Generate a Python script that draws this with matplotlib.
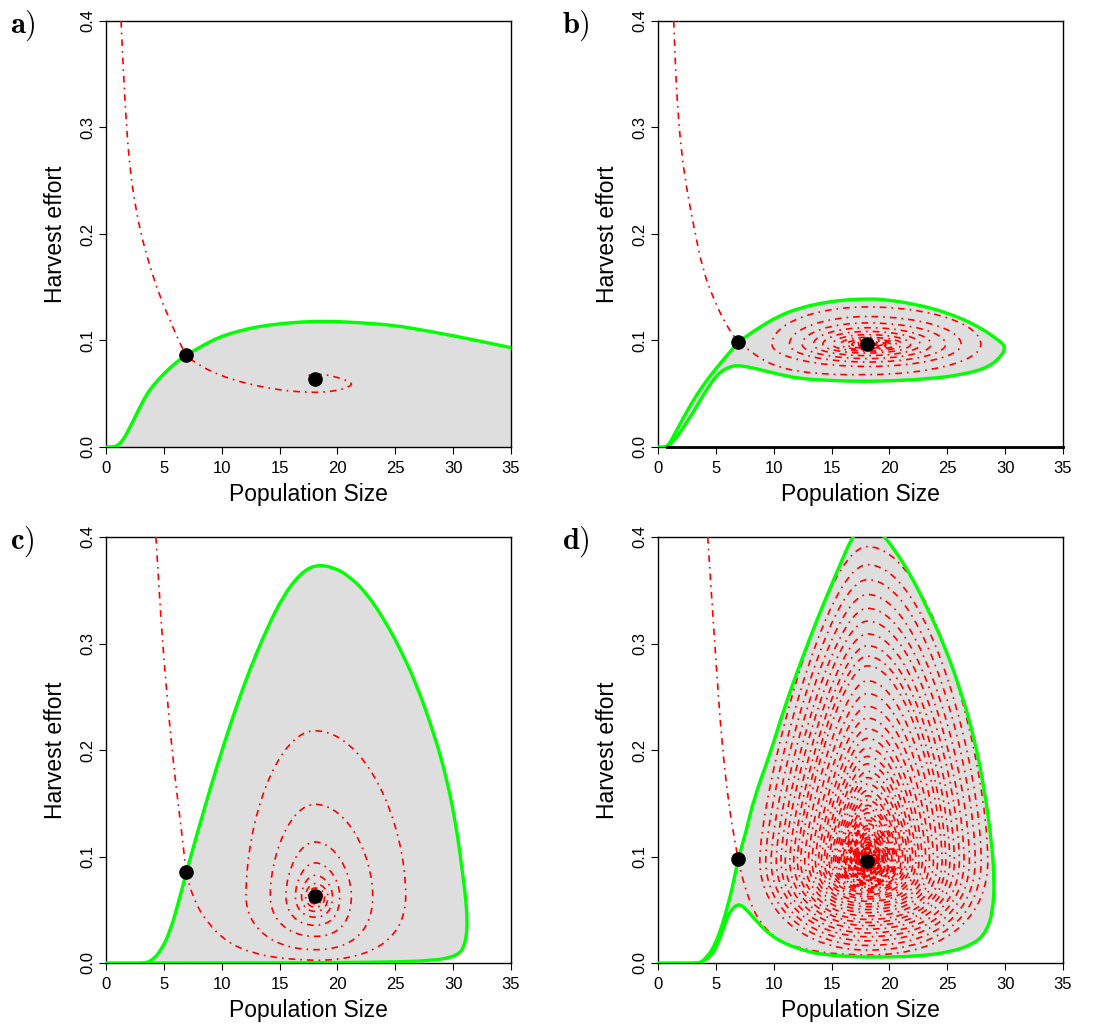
import numpy as np
import matplotlib.pyplot as plt
from matplotlib.path import Path
from matplotlib.patches import PathPatch

plt.rcParams['font.family'] = ['Liberation Sans', 'DejaVu Sans']
plt.rcParams['mathtext.fontset'] = 'cm'

GREEN = '#00ff00'
RED = '#ff0000'
GREY = '#dedede'
DOTDASH = (0, (4, 3, 1, 3))

# ---------------- panel a ----------------
green_a_x = [0.0, 0.5, 1.0, 1.5, 2.0, 2.5, 3.0, 3.5, 4.0, 5.0, 6.0, 6.9, 8.0, 9.0, 10.0,
             11.5, 13.0, 15.0, 17.0, 18.5, 20.0, 22.0, 25.0, 27.5, 30.0, 32.5, 35.0]
green_a_y = [0.0, 0.0, 0.001, 0.007, 0.017, 0.028, 0.039, 0.049, 0.057, 0.069, 0.079, 0.086,
             0.093, 0.099, 0.104, 0.109, 0.1128, 0.1158, 0.1175, 0.118, 0.1178, 0.1167,
             0.1142, 0.1095, 0.1045, 0.099, 0.0933]
red_a_x = [1.3, 1.45, 1.56, 1.75, 1.93, 2.15, 2.36, 2.94, 3.8, 4.67, 5.53, 6.2, 6.9,
           8.0, 9.5, 11.0, 13.0, 15.0, 17.0, 18.5, 20.0, 21.0, 21.3, 20.8, 19.8, 18.8,
           17.8, 17.3, 17.4]
red_a_y = [0.4, 0.365, 0.341, 0.305, 0.279, 0.256, 0.238, 0.203, 0.169, 0.141, 0.119,
           0.102, 0.086, 0.077, 0.069, 0.063, 0.0575, 0.0535, 0.0515, 0.0512, 0.053,
           0.0565, 0.0594, 0.0625, 0.066, 0.0682, 0.0683, 0.0665, 0.065]
eq_a_x = [6.9, 18.1]
eq_a_y = [0.086, 0.064]

# ---------------- panel b ----------------
green_b_x = [0.0, 0.6, 0.9, 1.59, 2.68, 3.78, 5.0, 6.25, 6.93, 8.44, 10.36, 12.27, 14.47,
             16.5, 18.1, 19.4, 22.1, 24.9, 27.6, 29.3, 30.05, 29.7, 28.5, 26.3, 23.5,
             19.4, 16.5, 14.47, 12.27, 10.36, 8.44, 7.07, 6.25, 5.15, 4.05, 2.96, 2.0,
             1.4, 0.9, 0.6]
green_b_y = [0.0, 0.0, 0.0012, 0.0152, 0.0373, 0.0563, 0.0737, 0.0896, 0.0986, 0.1101,
             0.1228, 0.1307, 0.136, 0.1385, 0.139, 0.1388, 0.1345, 0.1266, 0.114, 0.1013,
             0.0945, 0.0854, 0.0744, 0.068, 0.064, 0.0617, 0.0618, 0.0627, 0.0642, 0.0684,
             0.0737, 0.0766, 0.0759, 0.069, 0.0516, 0.031, 0.0152, 0.006, 0.0012, 0.0]
red_b_x = [1.36, 1.5, 1.65, 2.0, 2.5, 3.1, 3.9, 4.85, 5.9, 6.93]
red_b_y = [0.4, 0.36, 0.3255, 0.2786, 0.241, 0.2066, 0.165, 0.138, 0.114, 0.0986]
zero_b_x = [0.8, 35.0]
zero_b_y = [0.0, 0.0]
# spiral leaving the saddle, then one extreme per quarter turn
spiral_b_x = [6.93, 7.6, 9.0, 10.4, 12.3, 14.5, 16.3, 18.1]
spiral_b_y = [0.0986, 0.093, 0.082, 0.075, 0.0706, 0.0685, 0.0678, 0.068]
right_b = [27.9, 26.2, 24.86, 23.6, 22.66, 21.83, 21.1, 20.6, 20.1, 19.7, 19.4, 19.15,
           18.95, 18.8, 18.7, 18.6]
top_b = [0.1315, 0.1225, 0.1165, 0.112, 0.1085, 0.1055, 0.103, 0.1012, 0.0998, 0.0988,
         0.098, 0.0975, 0.0971, 0.0969, 0.0967, 0.0966]
left_b = [9.85, 11.36, 12.46, 13.43, 14.25, 15.08, 15.77, 16.3, 16.75, 17.1, 17.35,
          17.55, 17.7, 17.8, 17.88, 17.94]
bottom_b = [0.068, 0.0756, 0.0798, 0.083, 0.0858, 0.0882, 0.09, 0.0915, 0.0927, 0.0937,
            0.0945, 0.0951, 0.0955, 0.0958, 0.096, 0.0962]
eq_b_x = [6.93, 18.1]
eq_b_y = [0.0986, 0.0964]

# ---------------- panel c ----------------
green_c_x = [0.0, 3.0, 3.6, 4.0, 4.67, 5.53, 6.4, 7.26, 8.13, 9.0, 10.15, 11.3, 12.45,
             13.9, 15.34, 16.78, 18.07, 19.66, 21.1, 22.54, 24.0, 25.42, 26.87, 28.3,
             29.46, 30.3, 30.75, 31.1, 31.22, 31.15, 30.9, 30.6, 29.75, 28.3, 25.4, 19.7,
             12.0, 6.0, 3.6]
green_c_y = [0.0, 0.0, 0.0005, 0.003, 0.0103, 0.029, 0.0625, 0.098, 0.131, 0.1637,
             0.2044, 0.242, 0.2764, 0.314, 0.3452, 0.3656, 0.374, 0.3718, 0.3625, 0.3468,
             0.3233, 0.2952, 0.2607, 0.2169, 0.1731, 0.1261, 0.09, 0.06, 0.04, 0.025,
             0.015, 0.0095, 0.005, 0.0025, 0.001, 0.0003, 0.0001, 0.0, 0.0]
red_c_x = [4.32, 4.53, 4.81, 5.1, 5.53, 5.97, 6.54, 6.92]
red_c_y = [0.4, 0.361, 0.314, 0.273, 0.22, 0.173, 0.123, 0.0854]
spiral_c_x = [6.92, 7.55, 8.7, 10.43, 12.74, 15.34, 18.07]
spiral_c_y = [0.0854, 0.06, 0.0385, 0.0197, 0.0088, 0.004, 0.0025]
right_c = [25.9, 23.05, 21.2, 20.2, 19.57, 19.17, 18.9, 18.7]
top_c = [0.218, 0.149, 0.1136, 0.094, 0.0823, 0.0745, 0.0704, 0.068]
left_c = [12.1, 14.2, 15.55, 16.37, 16.9, 17.25, 17.5, 17.65]
bottom_c = [0.0025, 0.0125, 0.025, 0.0354, 0.043, 0.0485, 0.0526, 0.0555]
eq_c_x = [6.92, 18.07]
eq_c_y = [0.0854, 0.0629]

# ---------------- panel d ----------------
green_d_x = [0.0, 3.4, 3.7, 3.96, 4.4, 4.8, 5.2, 5.59, 6.0, 6.4, 6.93, 7.6, 8.3, 9.73,
             10.89, 12.33, 13.77, 15.22, 16.08, 16.66, 17.2, 18.2, 19.2, 20.4, 21.86,
             23.3, 24.75, 26.2, 27.35, 28.2, 28.8, 29.08, 28.94, 28.36, 27.35, 25.3, 22.4,
             19.55, 16.66, 13.77, 12.4, 10.76, 9.4, 8.3, 7.49, 6.95, 6.4, 6.0, 5.6, 5.2,
             4.8, 4.3, 3.7]
green_d_y = [0.0, 0.0, 0.0006, 0.003, 0.008, 0.015, 0.025, 0.037, 0.053, 0.0695, 0.098,
             0.123, 0.155, 0.198, 0.2388, 0.2826, 0.3233, 0.3609, 0.3828, 0.397, 0.405,
             0.41, 0.405, 0.389, 0.364, 0.3327, 0.2983, 0.2545, 0.2106, 0.1637, 0.1167,
             0.0792, 0.0479, 0.0291, 0.0182, 0.0103, 0.0063, 0.0056, 0.0058, 0.0085,
             0.0125, 0.019, 0.029, 0.042, 0.052, 0.0555, 0.051, 0.043, 0.031, 0.019, 0.01,
             0.004, 0.0005]
red_d_x = [4.3, 4.53, 4.82, 5.11, 5.54, 6.12, 6.7, 6.93]
red_d_y = [0.4, 0.361, 0.314, 0.267, 0.2044, 0.148, 0.1105, 0.098]
spiral_d_x = [6.93, 7.08, 7.49, 8.04, 8.72, 9.67, 10.76, 12.4, 14.5, 16.3, 18.1]
spiral_d_y = [0.098, 0.0896, 0.072, 0.055, 0.040, 0.028, 0.0195, 0.0135, 0.0095, 0.008,
              0.0075]
right_d = [28.5, 27.93, 27.41, 26.91, 26.45, 26.04, 25.61, 25.22, 24.87, 24.55,
           24.16, 23.8, 23.46, 23.14, 22.83, 22.55, 22.28, 22.03, 21.8, 21.58,
           21.37, 21.17, 20.99, 20.81, 20.65, 20.5, 20.35, 20.22, 20.09, 19.97,
           19.86, 19.75, 19.65, 19.56, 19.47, 19.39, 19.31, 19.24, 19.17, 19.11,
           19.05, 18.99, 18.94, 18.89, 18.84, 18.8, 18.75, 18.71, 18.68, 18.64,
           18.61, 18.58, 18.55, 18.52, 18.5, 18.47, 18.45, 18.43, 18.41, 18.39]
top_d = [0.391, 0.374, 0.36, 0.346, 0.333, 0.321, 0.309, 0.298, 0.288, 0.279,
         0.265, 0.253, 0.241, 0.23, 0.22, 0.211, 0.202, 0.194, 0.187, 0.18,
         0.174, 0.168, 0.162, 0.157, 0.153, 0.148, 0.145, 0.141, 0.137, 0.134,
         0.131, 0.129, 0.126, 0.124, 0.122, 0.12, 0.118, 0.116, 0.115, 0.1135,
         0.1121, 0.1109, 0.1098, 0.1087, 0.1078, 0.1069, 0.106, 0.1053, 0.1046, 0.1039,
         0.1033, 0.1027, 0.1022, 0.1017, 0.1013, 0.1009, 0.1005, 0.1001, 0.0998, 0.0995]
left_d = [8.8, 9.31, 9.78, 10.22, 10.63, 11.0, 11.39, 11.73, 12.05, 12.33,
          12.68, 13.0, 13.31, 13.6, 13.87, 14.12, 14.36, 14.58, 14.79, 14.99,
          15.18, 15.35, 15.52, 15.67, 15.82, 15.95, 16.08, 16.2, 16.32, 16.42,
          16.52, 16.62, 16.71, 16.79, 16.87, 16.94, 17.01, 17.08, 17.14, 17.2,
          17.25, 17.3, 17.35, 17.39, 17.44, 17.48, 17.51, 17.55, 17.58, 17.61,
          17.64, 17.67, 17.7, 17.72, 17.74, 17.76, 17.78, 17.8, 17.82, 17.84]
bottom_d = [0.0075, 0.0121, 0.0165, 0.0208, 0.0247, 0.0282, 0.0318, 0.0351, 0.0381, 0.0409,
            0.0442, 0.0473, 0.0502, 0.0529, 0.0555, 0.0579, 0.0602, 0.0623, 0.0643, 0.0662,
            0.068, 0.0697, 0.0712, 0.0727, 0.0741, 0.0754, 0.0766, 0.0778, 0.0788, 0.0798,
            0.0808, 0.0817, 0.0825, 0.0833, 0.0841, 0.0848, 0.0854, 0.0861, 0.0866, 0.0872,
            0.0877, 0.0882, 0.0886, 0.0891, 0.0895, 0.0899, 0.0902, 0.0905, 0.0909, 0.0912,
            0.0914, 0.0917, 0.0919, 0.0922, 0.0924, 0.0926, 0.0928, 0.093, 0.0931, 0.0933]
eq_d_x = [6.93, 18.1]
eq_d_y = [0.098, 0.0958]


def smooth(x, y):
    # quadratic B-spline through the read points (drawn by matplotlib's Path)
    p = list(zip(x, y))
    mid = lambda a, b: ((a[0] + b[0]) / 2, (a[1] + b[1]) / 2)
    verts = [p[0], mid(p[0], p[1])]
    codes = [Path.MOVETO, Path.LINETO]
    for i in range(1, len(p) - 1):
        verts += [p[i], mid(p[i], p[i + 1])]
        codes += [Path.CURVE3, Path.CURVE3]
    verts.append(p[-1])
    codes.append(Path.LINETO)
    return verts, codes


def spiral_path(sx, sy, focus, rights, tops, lefts, bottoms, k):
    # smooth run out of the saddle, then cubic quarter turns through the extremes
    fx, fy = focus
    verts, codes = smooth(sx, sy)
    ext = []
    for i in range(len(rights)):
        ext.append(('v', rights[i], fy))
        ext.append(('h', fx, tops[i]))
        ext.append(('v', lefts[i], fy))
        if i + 1 < len(bottoms):
            ext.append(('h', fx, bottoms[i + 1]))
    kind0 = 'h'
    x0, y0 = verts[-1]
    for j, (kind, x1, y1) in enumerate(ext):
        ka, kb = k[j % 4]
        if kind0 == 'h':
            c1 = (x0 + ka * (x1 - x0), y0)
            c2 = (x1, y1 + kb * (y0 - y1))
        else:
            c1 = (x0, y0 + ka * (y1 - y0))
            c2 = (x1 + kb * (x0 - x1), y1)
        verts += [c1, c2, (x1, y1)]
        codes += [Path.CURVE4] * 3
        kind0, x0, y0 = kind, x1, y1
    return Path(verts, codes)


fig = plt.figure(figsize=(11.01, 10.25), dpi=100)
W, H = 1101.0, 1025.0


def make_axes(left, top, letter):
    ax = fig.add_axes([left / W, 1 - (top + 426) / H, 405 / W, 426 / H])
    ax.set_xlim(0, 35)
    ax.set_ylim(0, 0.4)
    ax.set_xticks(range(0, 36, 5))
    ax.set_yticks([0.0, 0.1, 0.2, 0.3, 0.4])
    ax.set_yticklabels(['0.0', '0.1', '0.2', '0.3', '0.4'], rotation=90, va='center')
    ax.tick_params(length=5, width=0.8, labelsize=12, pad=3)
    ax.tick_params(axis='x', pad=5)
    for s in ax.spines.values():
        s.set_linewidth(1.0)
    ax.set_xlabel('Population Size', fontsize=16.5)
    ax.set_ylabel('Harvest effort', fontsize=16.5)
    ax.xaxis.set_label_coords(0.5, -0.085)
    ax.yaxis.set_label_coords(-0.097, 0.5)
    fig.text((left - 96) / W, 1 - (top + 12) / H, r'$\mathbf{%s)}$' % letter,
             fontsize=22, va='baseline', ha='left')
    return ax


def red_curve(ax, path):
    ax.add_patch(PathPatch(path, facecolor='none', edgecolor=RED, lw=1.2,
                           linestyle=DOTDASH, zorder=3))


def green_region(ax, x, y, extra=None):
    verts, codes = smooth(x, y)
    fv, fc = list(verts), list(codes)
    if extra:
        fv += extra
        fc += [Path.LINETO] * len(extra)
    ax.add_patch(PathPatch(Path(fv, fc), facecolor=GREY, edgecolor='none', zorder=1))
    ax.add_patch(PathPatch(Path(verts, codes), facecolor='none', edgecolor=GREEN,
                           lw=2.4, zorder=4, joinstyle='round', capstyle='round'))


def dots(ax, x, y):
    ax.plot(x, y, 'o', color='black', ms=9.5, zorder=6, clip_on=False)


# a
ax = make_axes(106, 21, 'a')
green_region(ax, green_a_x, green_a_y, extra=[(35.0, 0.0), (0.0, 0.0)])
red_curve(ax, Path(*smooth(red_a_x, red_a_y)))
dots(ax, eq_a_x, eq_a_y)

# b
ax = make_axes(658, 21, 'b')
green_region(ax, green_b_x, green_b_y)
red_curve(ax, Path(*smooth(red_b_x, red_b_y)))
red_curve(ax, spiral_path(spiral_b_x, spiral_b_y, (eq_b_x[1], eq_b_y[1]),
                          right_b, top_b, left_b, bottom_b,
                          [(0.55, 0.55)] * 4))
ax.plot(zero_b_x, zero_b_y, color='black', lw=2, zorder=4, clip_on=False)
dots(ax, eq_b_x, eq_b_y)

# c
ax = make_axes(106, 537, 'c')
green_region(ax, green_c_x, green_c_y)
red_curve(ax, Path(*smooth(red_c_x, red_c_y)))
red_curve(ax, spiral_path(spiral_c_x, spiral_c_y, (eq_c_x[1], eq_c_y[1]),
                          right_c, top_c, left_c, bottom_c,
                          [(0.7, 0.6), (0.45, 0.55), (0.55, 0.45), (0.6, 0.6)]))
dots(ax, eq_c_x, eq_c_y)

# d
ax = make_axes(658, 537, 'd')
green_region(ax, green_d_x, green_d_y)
red_curve(ax, Path(*smooth(red_d_x, red_d_y)))
red_curve(ax, spiral_path(spiral_d_x, spiral_d_y, (eq_d_x[1], eq_d_y[1]),
                          right_d, top_d, left_d, bottom_d,
                          [(0.75, 0.5), (0.3, 0.55), (0.42, 0.2), (0.55, 0.6)]))
dots(ax, eq_d_x, eq_d_y)

fig.savefig('out.png', dpi=100)
